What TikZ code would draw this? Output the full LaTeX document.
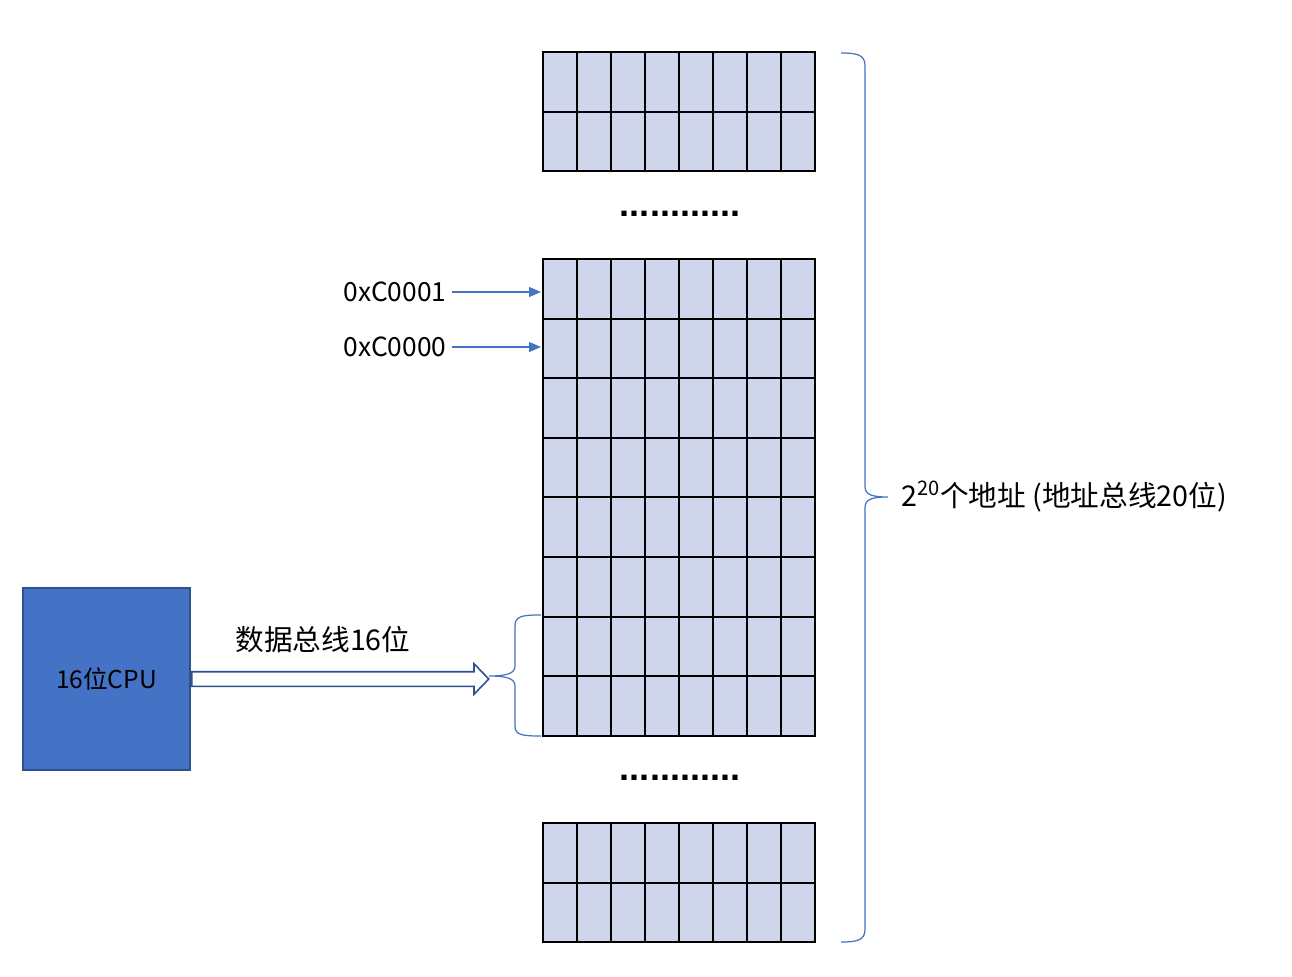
\documentclass[tikz,border=0pt]{standalone}
\usepackage{fontspec}
\setmainfont{Noto Sans CJK SC}
\newfontfamily\dotfont{Liberation Sans}
\usetikzlibrary{arrows.meta,shapes.arrows}
\definecolor{cellfill}{HTML}{CFD5EA}
\definecolor{accent}{HTML}{4472C4}
\definecolor{accentdark}{HTML}{2F528F}
\tikzset{
  cellgrid/.style={draw=black,line width=1.1pt},
  addrarrow/.style={draw=accent,line width=0.6pt,-{Triangle[length=0.24cm,width=0.2cm]}},
  membrace/.style={draw=accent,line width=0.7pt},
  cjklabel/.style={font=\fontsize{16.3}{19}\selectfont},
}
\begin{document}
\begin{tikzpicture}[x=0.02cm,y=-0.02cm,font=\fontsize{15}{18}\selectfont]
\useasboundingbox (0,0) rectangle (1292,977);
\foreach \ytop/\rows in {52/2,259/8,823/2} % edit here for the memory blocks (top, rows)
{
\fill[cellfill] (543,\ytop) rectangle (815,\ytop+\rows*59.6);
\foreach \c in {1,...,7}
\draw[cellgrid] (543+\c*34,\ytop) -- (543+\c*34,\ytop+\rows*59.6);
\foreach \r in {1,...,\rows}
\draw[cellgrid] (543,\ytop+\r*59.6) -- (815,\ytop+\r*59.6);
\draw[cellgrid] (543,\ytop) rectangle (815,\ytop+\rows*59.6);
}
\foreach \y/\name in {214/dotsup,778/dotsdown} % edit here for the dots
\node[font=\dotfont\bfseries\fontsize{20.5}{21}\selectfont] (\name) at (680,\y) {............};
\node[anchor=east,inner sep=3pt] (addr1) at (452,292) {0xC0001};
\node[anchor=east,inner sep=3pt] (addr0) at (452,347) {0xC0000};
\coordinate (row1) at (541,292);
\coordinate (row0) at (541,347);
\draw[addrarrow] (addr1) -- (row1);
\draw[addrarrow] (addr0) -- (row0);
\node[draw=accentdark,fill=accent,line width=1.2pt,minimum width=3.34cm,minimum height=3.64cm,font=\fontsize{14}{16}\selectfont] (cpu) at (106.5,679) {16位CPU};
\node[single arrow,draw=accentdark,fill=white,line width=0.9pt,inner xsep=0pt,inner ysep=0.13cm,anchor=tail,minimum height=5.94cm,single arrow head extend=0.16cm,single arrow tip angle=92] (bus) at (cpu.east) {};
\node[cjklabel] (buslabel) at (323,640) {数据总线16位};
% word brace
\draw[membrace] (541,615) .. controls (522,615) and (515,616) .. (515,626) -- (515,666)
  .. controls (515,673) and (508,676) .. (489,676) .. controls (508,676) and (515,679) .. (515,686)
  -- (515,726) .. controls (515,735) and (522,736) .. (541,736);
% whole memory
\draw[membrace] (841,53) .. controls (858,53) and (865,55) .. (865,66) -- (865,486)
  .. controls (865,494) and (870,497) .. (888,497) .. controls (870,497) and (865,500) .. (865,508)
  -- (865,929) .. controls (865,940) and (858,942) .. (841,942);
\node[cjklabel,anchor=west] (total) at (895,497) {2\textsuperscript{20}个地址 (地址总线20位)};
\end{tikzpicture}
\end{document}
